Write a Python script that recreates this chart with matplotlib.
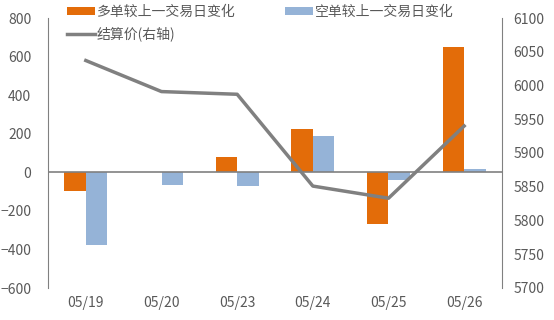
import numpy as np
import matplotlib.pyplot as plt

plt.rcParams['font.family'] = ['Noto Sans CJK SC', 'DejaVu Sans']

dates = ['05/19', '05/20', '05/23', '05/24', '05/25', '05/26']
long_chg = [-97, 0, 78, 225, -270, 648]
short_chg = [-376, -68, -73, 188, -42, 16]
settle = [6037, 5991, 5987, 5851, 5833, 5940]

orange = '#E36C09'
blue = '#95B3D7'
grey = '#808080'
txt = '#595959'

fig = plt.figure(figsize=(5.54, 3.2), dpi=100)
ax = fig.add_axes([48 / 554, 1 - 288 / 320, 454 / 554, 270 / 320])
ax2 = ax.twinx()

x = np.arange(len(dates))
w = 0.285
b1 = ax.bar(x - w / 2, long_chg, w, color=orange, zorder=2)
b2 = ax.bar(x + w / 2, short_chg, w, color=blue, zorder=2)
ax.axhline(0, color=grey, lw=1.2, zorder=3)

ln, = ax2.plot(x, settle, color=grey, lw=2.5, zorder=4)

ax.set_xlim(-0.5, len(dates) - 0.5)
ax.set_ylim(-600, 800)
ax.set_yticks(range(-600, 801, 200))
ax2.set_ylim(5700, 6100)
ax2.set_yticks(range(5700, 6101, 50))
ax.set_xticks(x)
ax.set_xticklabels(dates)

for a in (ax, ax2):
    for s in ('top', 'bottom'):
        a.spines[s].set_visible(False)
    a.spines['left'].set_color(grey)
    a.spines['right'].set_color(grey)
    a.tick_params(length=0, labelsize=10, colors=txt)
ax2.spines['left'].set_visible(False)
ax.spines['right'].set_visible(False)
ax.tick_params(axis='y', pad=12)
ax.tick_params(axis='x', pad=6)
ax2.tick_params(axis='y', pad=8)

ax2.set_zorder(ax.get_zorder() + 1)
ax2.patch.set_visible(False)

fig.legend([b1, ln, b2], ['多单较上一交易日变化', '结算价(右轴)', '空单较上一交易日变化'],
           ncol=2, loc='upper left', bbox_to_anchor=(57 / 554, 1.015), frameon=False,
           fontsize=10, labelcolor=txt, handlelength=2.0, handleheight=0.6,
           handletextpad=0.15, columnspacing=3.6, labelspacing=0.55, borderpad=0.2)

fig.savefig('out.png', dpi=100)
